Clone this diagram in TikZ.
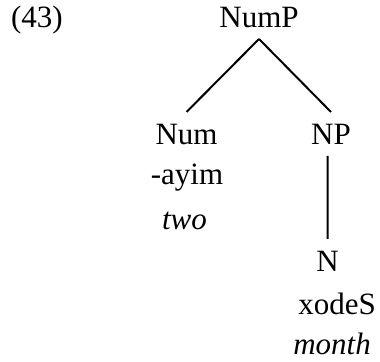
\documentclass[tikz,border=0pt]{standalone}
\usepackage{fontspec}
\setmainfont{Liberation Serif}
\begin{document}
\begin{tikzpicture}[x=0.5pt,y=-0.5pt,line width=1pt,
    every node/.style={font=\fontsize{15.5}{18}\selectfont,anchor=base,inner sep=0pt},
    cat/.style={text height=16pt,text depth=5pt}]
      \useasboundingbox (0,0) rectangle (380,362);

      \node[anchor=base west] (ex) at (10,28) {(43)};

      \node[cat] (NumP) at (259,28) {NumP};
      \node[cat] (Num) at (186.5,145) {Num};
      \node[cat] (NP) at (331,145) {NP};
      \node[cat] (N) at (327.5,272) {N};

      \node (ayim) at (187,185) {-ayim};
      \node (two) at (184.5,230) {\itshape two};
      \node (xodeS) at (337,315) {xodeS};
      \node (month) at (332,355) {\itshape month};

      \draw (NumP.south) -- (Num.north)
            (NumP.south) -- (NP.north)
            (N.north |- NP.south) -- (N.north);
    \end{tikzpicture}
\end{document}
